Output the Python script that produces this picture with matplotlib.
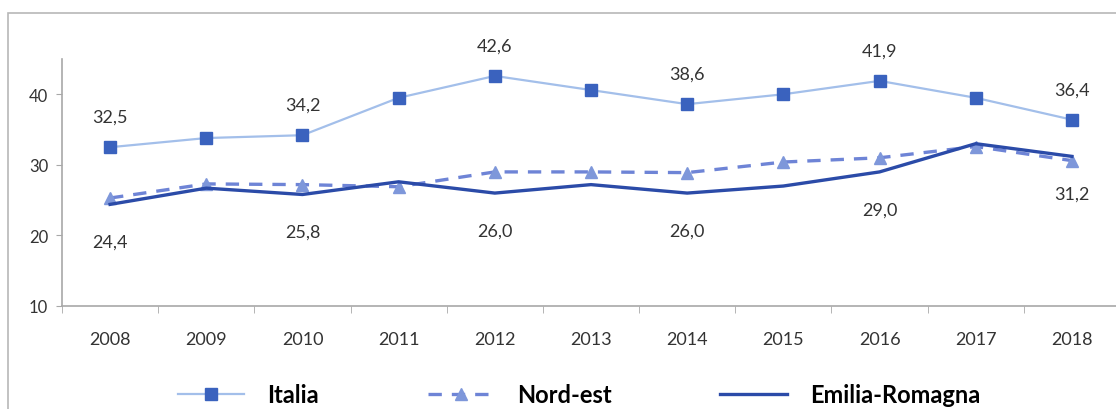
import matplotlib
matplotlib.use("Agg")
import matplotlib.pyplot as plt
from matplotlib.patches import Rectangle

years = ["2008", "2009", "2010", "2011", "2012", "2013", "2014", "2015", "2016", "2017", "2018"]
italia = [32.5, 33.8, 34.2, 39.5, 42.6, 40.6, 38.6, 40.0, 41.9, 39.5, 36.4]
nord_est = [25.3, 27.3, 27.2, 26.9, 29.0, 29.0, 28.9, 30.4, 31.0, 32.6, 30.6]
emilia = [24.4, 26.7, 25.8, 27.6, 26.0, 27.2, 26.0, 27.0, 29.0, 33.0, 31.2]
label_idx = [0, 2, 4, 6, 8, 10]

plt.rcParams['font.family'] = ['Lato', 'DejaVu Sans']

fig = plt.figure(figsize=(11.16, 4.10), dpi=100)
fig.patches.append(Rectangle((8/1116, -0.1), 1.2, 1 - 14/410 + 0.1, transform=fig.transFigure,
                             fill=False, edgecolor='#B8B8B8', linewidth=1.2))
ax = fig.add_axes([62/1116, 1 - 307/410, 1058/1116, (307 - 60)/410])

x = list(range(len(years)))
l1, = ax.plot(x, italia, color='#A3BFEA', lw=1.6, marker='s', markersize=8.5,
              markerfacecolor='#3A62BE', markeredgecolor='#3A62BE', label='Italia', zorder=4)
l2, = ax.plot(x, nord_est, color='#6E84D6', lw=2.4, ls=(0, (4, 3)), marker='^', markersize=9,
              markerfacecolor='#7E97DA', markeredgecolor='#7E97DA', label='Nord-est', zorder=3)
l3, = ax.plot(x, emilia, color='#2B4BA8', lw=2.4, label='Emilia-Romagna', zorder=5)

for i in label_idx:
    ax.annotate(f"{italia[i]:.1f}".replace('.', ','), (x[i], italia[i]), xytext=(0, 22),
                textcoords='offset points', ha='center', va='center', fontsize=13, color='#333333')
    ax.annotate(f"{emilia[i]:.1f}".replace('.', ','), (x[i], emilia[i]), xytext=(0, -27),
                textcoords='offset points', ha='center', va='center', fontsize=13, color='#333333')

ax.set_xlim(-0.5, len(years) - 0.5)
ax.set_ylim(10, 45)
ax.set_yticks([10, 20, 30, 40])
ax.set_xticks(x)
ax.set_xticklabels(years)
ax.set_xticks([i - 0.5 for i in range(len(years) + 1)], minor=True)
ax.tick_params(axis='x', which='major', length=0, pad=18, labelsize=13, labelcolor='#333333')
ax.tick_params(axis='x', which='minor', length=5, color='#A8A8A8', direction='out')
ax.tick_params(axis='y', length=4, color='#A8A8A8', labelsize=12, labelcolor='#333333', pad=6)
for s in ['top', 'right']:
    ax.spines[s].set_visible(False)
for s in ['left', 'bottom']:
    ax.spines[s].set_color('#A8A8A8')
    ax.spines[s].set_linewidth(1.2)

fig.legend(handles=[l1, l2, l3], loc='center', bbox_to_anchor=(579/1116, 1 - 396/410), ncol=3,
           frameon=False, handlelength=2.8, columnspacing=4.6, handletextpad=1.0,
           borderaxespad=0, borderpad=0, prop={'weight': 'bold', 'size': 17})

fig.savefig("out.png", dpi=100)
